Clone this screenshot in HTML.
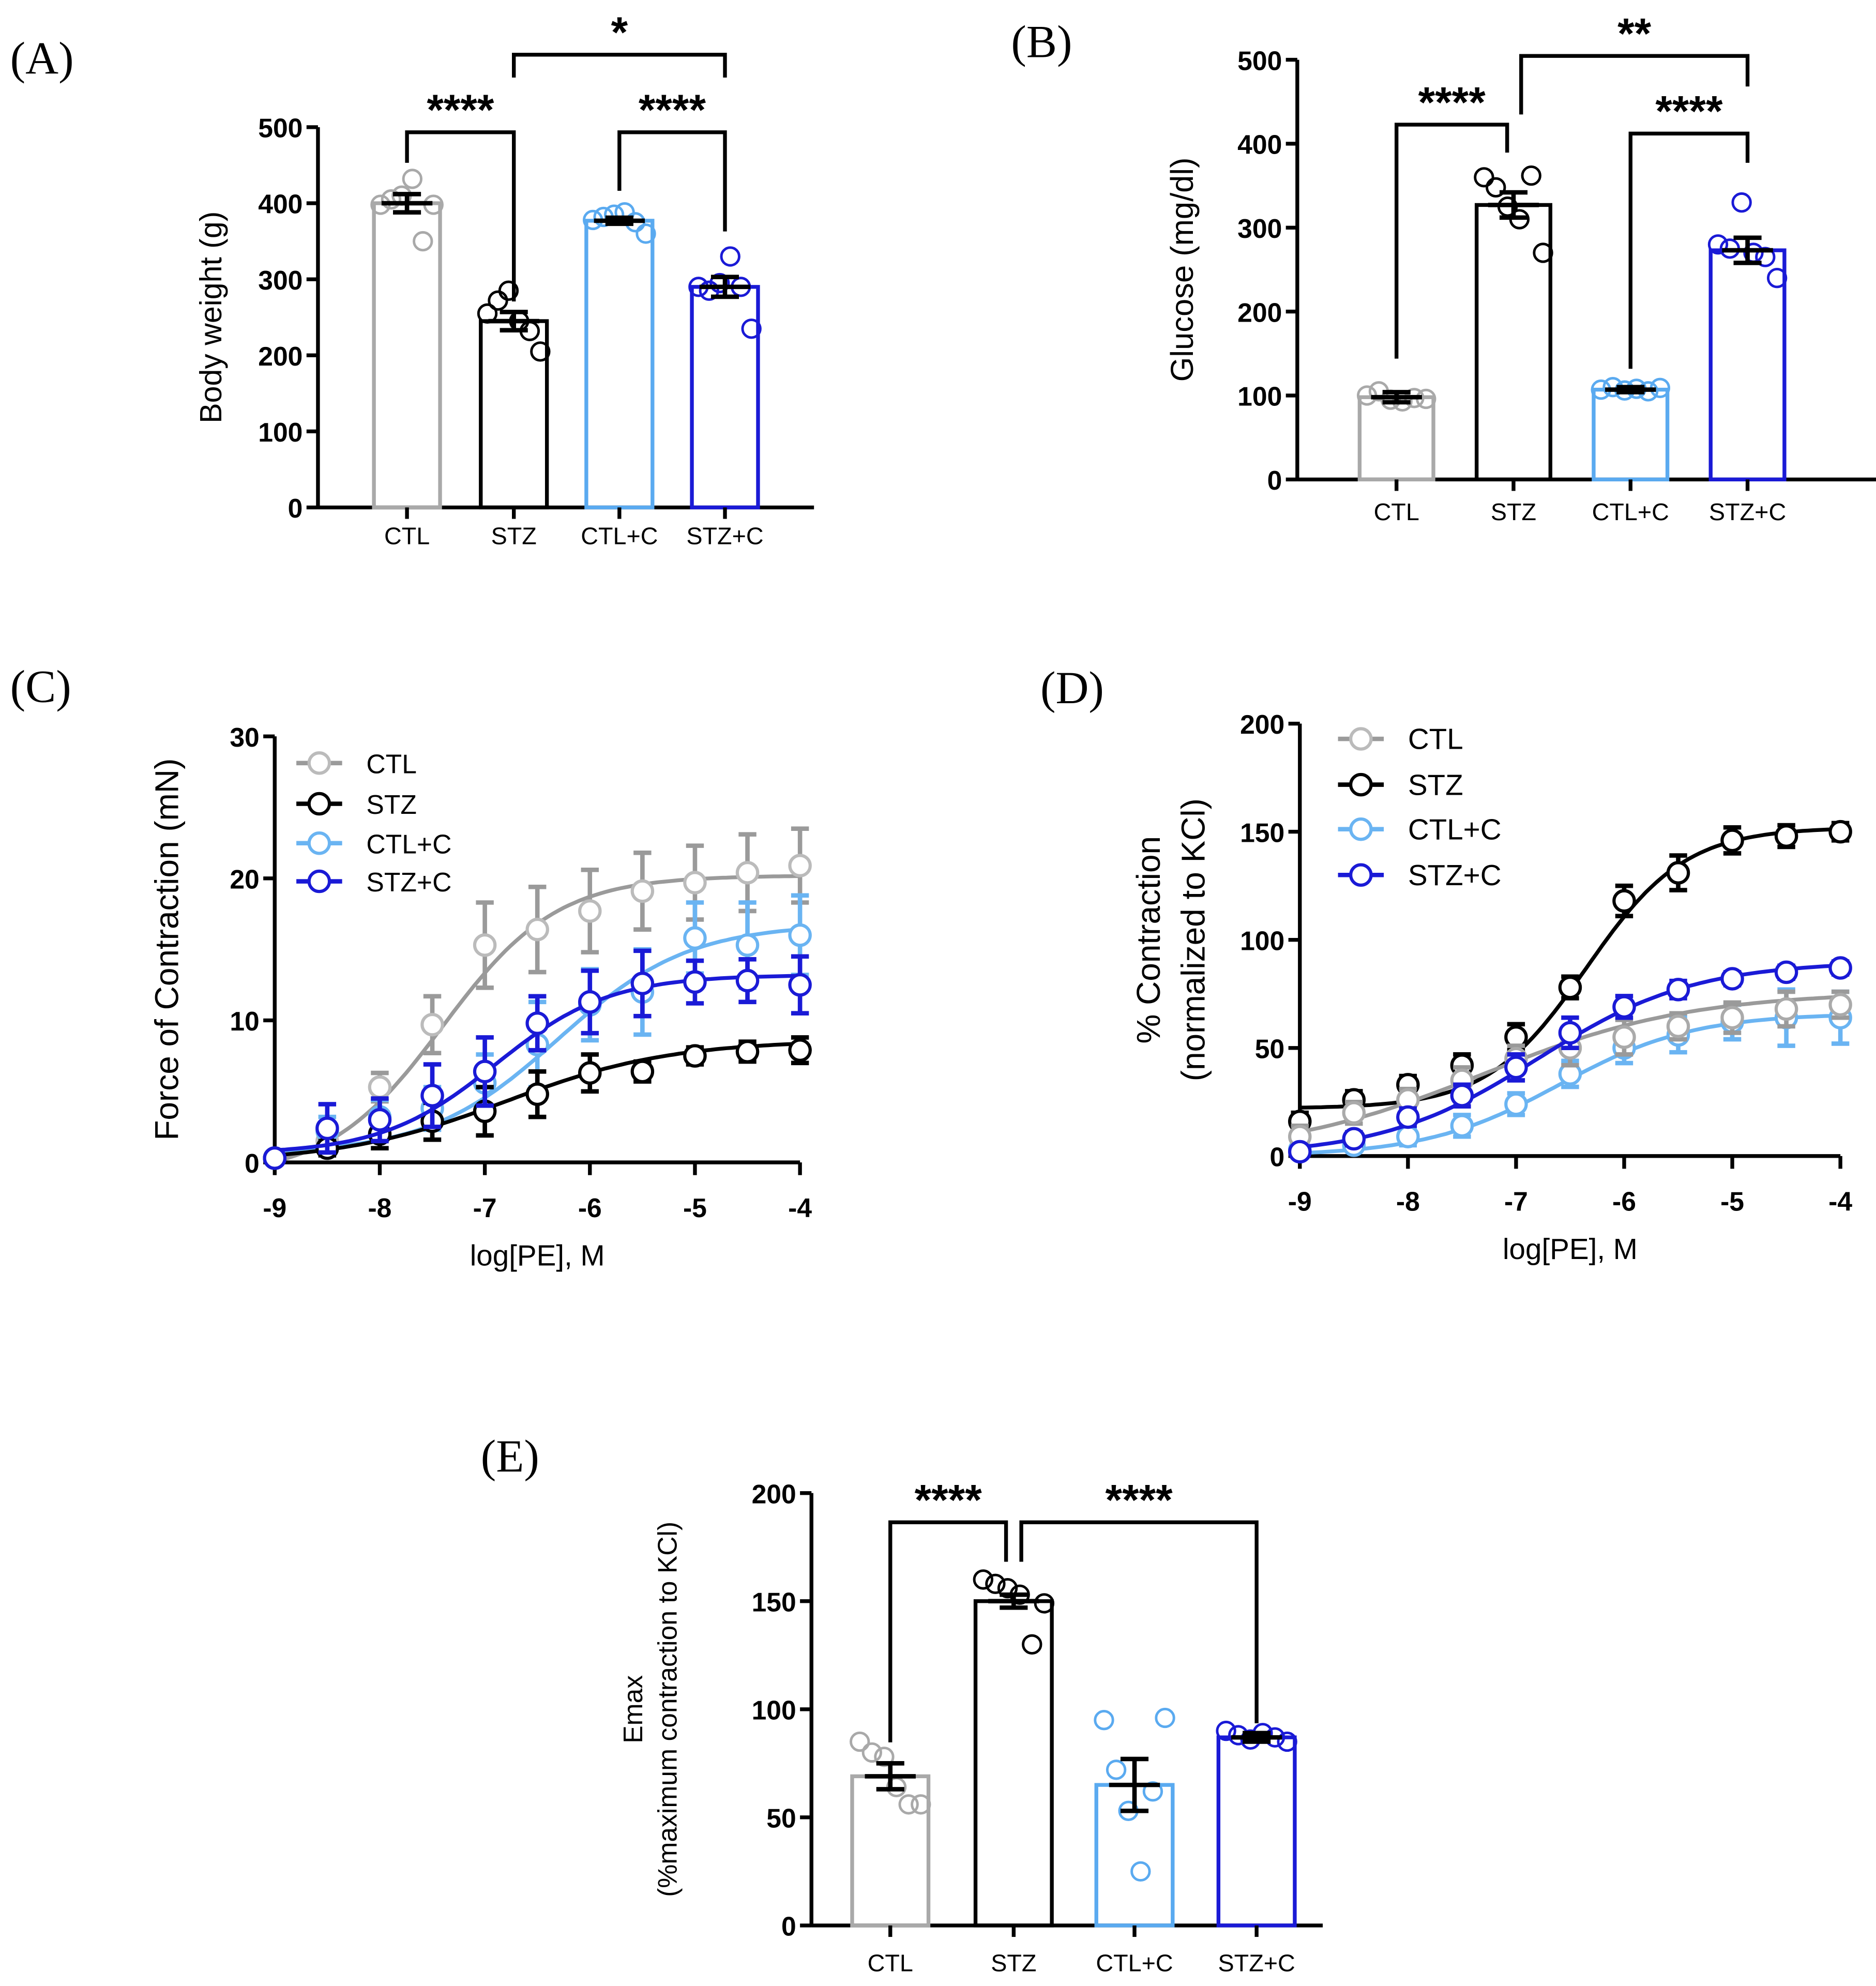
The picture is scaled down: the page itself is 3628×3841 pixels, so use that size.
<!DOCTYPE html>
<html><head><meta charset="utf-8">
<style>
html,body{margin:0;padding:0;background:#fff;}
svg{display:block;}
text{font-family:"Liberation Sans",Arial,sans-serif;}
.tick{font-size:21px;font-weight:bold;}
.cat{font-size:19px;}
.plab{font-family:"Liberation Serif",serif;font-size:36px;}
</style></head>
<body>
<svg id="fig" width="3628" height="3841" viewBox="0 0 1475 1561.6" xmlns="http://www.w3.org/2000/svg"></svg>
<script>
// ---------- data ----------
const groups = ["CTL","STZ","CTL+C","STZ+C"];
const colA = ["#a9a9a9","#000000","#5aaaf0","#1a1ad6"];
const colLine = ["#9a9a9a","#000000","#6ab4f2","#1a1ad6"];
// Panel A body weight
const bwMean = [400,245,377,290];
const bwSem = [12,12,4,13];
const bwPts = [[398,405,410,432,350,398],[255,272,285,245,232,205],[378,382,385,388,375,360],[290,285,295,330,290,235]];
// Panel B glucose
const gluMean = [98,327,107,273];
const gluSem = [6,15,3,15];
const gluPts = [[100,105,95,93,97,96],[360,348,325,310,362,270],[107,110,106,108,105,109],[280,275,330,270,265,240]];
// Panels C/D concentration axis
const logConc = [-9,-8.5,-8,-7.5,-7,-6.5,-6,-5.5,-5,-4.5,-4];
const cMean = [
 [0.3,1.5,5.3,9.7,15.3,16.4,17.7,19.1,19.7,20.4,20.9],
 [0.3,1.0,2.0,2.9,3.6,4.8,6.3,6.4,7.5,7.8,7.9],
 [0.3,2.2,3.2,3.8,5.6,8.3,11.1,12.0,15.8,15.3,16.0],
 [0.3,2.4,3.0,4.7,6.4,9.8,11.3,12.6,12.7,12.8,12.5]];
const cErr = [
 [0.3,1,1,2,3,3,2.9,2.7,2.6,2.7,2.6],
 [0.3,0.5,1,1.3,1.7,1.6,1.3,0.7,0.6,0.7,0.9],
 [0.3,1,1.2,1.5,2,3,2.5,3,2.5,3,2.8],
 [0.3,1.7,1.5,2.2,2.4,1.9,2.2,2.3,1.5,1.5,2.0]];
const cFitBottom = [-1,0,0.6,0.6];
const cFitTop = [20.2,8.6,16.8,13.2];
const cFitEC50 = [-7.4,-6.8,-6.3,-6.9];
const cFitHill = [0.8,0.55,0.7,0.8];
const dMean = [
 [9,20,26,35,45,50,55,60,64,68,70],
 [16,26,33,42,55,78,118,131,146,148,150],
 [3,5,9,14,24,38,50,56,62,64,64],
 [2,8,18,28,41,57,69,77,82,85,87]];
const dErr = [
 [5,5,5,6,6,8,8,6,7,8,6],
 [4,4,4,5,6,5,7,8,6,5,4],
 [2,2,4,5,5,6,7,8,8,13,12],
 [2,3,4,5,6,7,5,4,3,3,3]];
const dFitBottom = [0,22,0,0];
const dFitTop = [76,152,66,90];
const dFitEC50 = [-7.3,-6.35,-6.6,-6.8];
const dFitHill = [0.45,0.95,0.7,0.6];
// Panel E Emax
const eMean = [69,150,65,87];
const eSem = [6,3,12,2];
const ePts = [[85,80,78,64,56,56],[160,158,156,153,130,149],[95,72,53,25,62,96],[90,88,86,89,87,85]];

// ---------- helpers ----------
const svg = document.getElementById('fig');
const NS = "http://www.w3.org/2000/svg";
function mk(tag, attrs, parent){
  const e = document.createElementNS(NS, tag);
  for (const k in attrs) e.setAttribute(k, attrs[k]);
  (parent||svg).appendChild(e);
  return e;
}
function txt(x,y,s,attrs,parent){
  const t = mk('text', Object.assign({x:x,y:y},attrs||{}), parent);
  t.textContent = s; return t;
}
function lin(d0,d1,r0,r1){ return v => r0 + (v-d0)/(d1-d0)*(r1-r0); }

function panelLabel(x,y,s,name){
  const t = txt(x,y,s,{class:'plab'});
  
  
}

function yAxis(g, x, y0, y1, ticks, yScale, name){
  const a = mk('line',{x1:x,y1:y0+1,x2:x,y2:y1,stroke:'#000','stroke-width':3},g);
  
  
  ticks.forEach(v=>{
    const y = yScale(v);
    mk('line',{x1:x-9,y1:y,x2:x,y2:y,stroke:'#000','stroke-width':3},g);
    const t = txt(x-12,y+8,String(v),{class:'tick','text-anchor':'end'},g);
    
    
  });
}
function yTitle(g,x,y,s,size,name){
  const t = txt(x,y,s,{'font-size':size,'text-anchor':'middle',transform:`rotate(-90 ${x} ${y})`},g);
  
  
}

function barPanel(opt){
  const g = mk('g',{});
  
  
  const ys = lin(0,opt.max,opt.y0,opt.y1);
  yAxis(g,opt.ax,opt.y0,opt.y1,opt.ticks,ys,opt.name);
  const xa = mk('line',{x1:opt.ax,y1:opt.y0,x2:opt.axEnd,y2:opt.y0,stroke:'#000','stroke-width':3},g);
  
  
  groups.forEach((gn,i)=>{
    const cx = opt.cx[i], w = opt.bw, c = colA[i];
    const top = ys(opt.mean[i]);
    const b = mk('rect',{x:cx-w/2,y:top,width:w,height:opt.y0-top,fill:'none',stroke:c,'stroke-width':3},g);
    
    
    mk('line',{x1:cx,y1:opt.y0,x2:cx,y2:opt.y0+9,stroke:'#000','stroke-width':3},g);
    const l = txt(cx,opt.labY,gn,{class:'cat','text-anchor':'middle'},g);
    
    
    const n = opt.pts[i].length;
    opt.pts[i].forEach((v,j)=>{
      const px = cx + (j-(n-1)/2)*(w*0.16);
      const p = mk('circle',{cx:px,cy:ys(v),r:7,fill:'none',stroke:c,'stroke-width':2},g);
      
      
    });
    const hi = ys(opt.mean[i]+opt.sem[i]), lo = ys(opt.mean[i]-opt.sem[i]);
    const eg = mk('g',{stroke:'#000','stroke-width':3.5},g);
    
    
    mk('line',{x1:cx,y1:hi,x2:cx,y2:lo},eg);
    mk('line',{x1:cx-11,y1:hi,x2:cx+11,y2:hi},eg);
    mk('line',{x1:cx-11,y1:lo,x2:cx+11,y2:lo},eg);
    mk('line',{x1:cx-20,y1:top,x2:cx+20,y2:top},eg);
  });
  opt.brackets.forEach(b=>{
    const bg = mk('g',{},g);
    
    
    mk('path',{d:`M${b.x1},${b.l1} V${b.y} H${b.x2} V${b.l2}`,fill:'none',stroke:'#000','stroke-width':3},bg);
    txt((b.x1+b.x2)/2,b.y-6,b.s,{'font-size':34,'font-weight':'bold','text-anchor':'middle'},bg);
  });
  yTitle(g,opt.ytX,(opt.y0+opt.y1)/2,opt.ytitle,opt.ytSize||22,opt.name+'-y-axis-title');
  if (opt.ytitle2) yTitle(g,opt.ytX+27,(opt.y0+opt.y1)/2,opt.ytitle2,opt.ytSize||22,opt.name+'-y-axis-title-2');
}

function hill(x,b,t,e,h){ return b + (t-b)/(1+Math.pow(10,(e-x)*h)); }

function curvePanel(opt){
  const g = mk('g',{});
  
  
  const xs = lin(-9,-4,opt.x0,opt.x1);
  const ys = lin(0,opt.max,opt.y0,opt.y1);
  yAxis(g,opt.x0,opt.y0,opt.y1,opt.ticks,ys,opt.name);
  const xa = mk('line',{x1:opt.x0,y1:opt.y0,x2:opt.x1,y2:opt.y0,stroke:'#000','stroke-width':3},g);
  
  
  [-9,-8,-7,-6,-5,-4].forEach(v=>{
    mk('line',{x1:xs(v),y1:opt.y0,x2:xs(v),y2:opt.y0+10,stroke:'#000','stroke-width':3},g);
    const t = txt(xs(v),opt.y0+43,String(v),{class:'tick','text-anchor':'middle','font-size':23},g);
    
    
  });
  const xt = txt((opt.x0+opt.x1)/2,opt.y0+81,'log[PE], M',{'font-size':23,'text-anchor':'middle'},g);
  
  
  yTitle(g,opt.ytX,(opt.y0+opt.y1)/2,opt.ytitle,26,opt.name+'-y-axis-title');
  if (opt.ytitle2) yTitle(g,opt.ytX+35,(opt.y0+opt.y1)/2,opt.ytitle2,26,opt.name+'-y-axis-title-2');
  const order = opt.order;
  order.forEach(i=>{
    const sg = mk('g',{},g);
    
    
    let d='';
    for(let k=0;k<=100;k++){
      const x = -9 + k*0.05;
      const y = Math.max(hill(x,opt.fb[i],opt.ft[i],opt.fe[i],opt.fh[i]),opt.clip?0:-99);
      d += (k?'L':'M')+xs(x).toFixed(1)+','+ys(y).toFixed(1);
    }
    const cv = mk('path',{d:d,fill:'none',stroke:colLine[i],'stroke-width':3},sg);
    
    
    logConc.forEach((x,k)=>{
      const cx = xs(x), m = opt.mean[i][k], e = opt.err[i][k];
      const eg = mk('g',{stroke:colLine[i],'stroke-width':3.5},sg);
      
      
      mk('line',{x1:cx,y1:ys(m-e),x2:cx,y2:ys(m+e)},eg);
      mk('line',{x1:cx-7,y1:ys(m+e),x2:cx+7,y2:ys(m+e)},eg);
      mk('line',{x1:cx-7,y1:ys(m-e),x2:cx+7,y2:ys(m-e)},eg);
    });
    logConc.forEach((x,k)=>{
      const p = mk('circle',{cx:xs(x),cy:ys(opt.mean[i][k]),r:8,fill:'#fff',stroke:i==0&&opt.name=='panel-d'?'#aaa':(i==0?'#bbb':colLine[i]),'stroke-width':2.5},sg);
      
      
    });
  });
  groups.forEach((gn,i)=>{
    const lg = mk('g',{},g);
    
    
    const y = opt.legY[i];
    mk('line',{x1:opt.legX,y1:y,x2:opt.legX+36,y2:y,stroke:colLine[i],'stroke-width':3.5},lg);
    mk('circle',{cx:opt.legX+18,cy:y,r:8,fill:'#fff',stroke:i==0?'#bbb':colLine[i],'stroke-width':2.5},lg);
    txt(opt.legX+55,y+8,gn,{'font-size':opt.legSize},lg);
  });
}

// ---------- draw ----------
panelLabel(8,58,'(A)','panel-label-a');
panelLabel(795,45,'(B)','panel-label-b');
panelLabel(8,552,'(C)','panel-label-c');
panelLabel(818,553,'(D)','panel-label-d');
panelLabel(378,1157,'(E)','panel-label-e');

barPanel({name:'panel-a',ax:250,axEnd:640,y0:399,y1:100,max:500,ticks:[0,100,200,300,400,500],
  cx:[320,404,487,570],bw:52,mean:bwMean,sem:bwSem,pts:bwPts,labY:428,
  ytitle:'Body weight (g)',ytX:174,ytSize:24,
  brackets:[{x1:320,x2:404,y:104,l1:128,l2:237,s:'****'},{x1:487,x2:570,y:104,l1:150,l2:182,s:'****'},{x1:404,x2:570,y:43,l1:61,l2:61,s:'*'}]});

barPanel({name:'panel-b',ax:1020,axEnd:1475,y0:377,y1:47,max:500,ticks:[0,100,200,300,400,500],
  cx:[1098,1190,1282,1374],bw:58,mean:gluMean,sem:gluSem,pts:gluPts,labY:409,
  ytitle:'Glucose (mg/dl)',ytX:938,ytSize:25,
  brackets:[{x1:1098,x2:1185,y:98,l1:282,l2:120,s:'****'},{x1:1282,x2:1374,y:105,l1:290,l2:128,s:'****'},{x1:1196,x2:1374,y:44,l1:90,l2:68,s:'**'}]});

curvePanel({name:'panel-c',x0:216,x1:629,y0:914,y1:579,max:30,ticks:[0,10,20,30],
  mean:cMean,err:cErr,fb:cFitBottom,ft:cFitTop,fe:cFitEC50,fh:cFitHill,clip:false,order:[0,2,1,3],
  ytitle:'Force of Contraction (mN)',ytX:140,legX:233,legY:[600,632,663,693],legSize:21});

curvePanel({name:'panel-d',x0:1022,x1:1447,y0:909,y1:569,max:200,ticks:[0,50,100,150,200],
  mean:dMean,err:dErr,fb:dFitBottom,ft:dFitTop,fe:dFitEC50,fh:dFitHill,clip:true,order:[1,2,0,3],
  ytitle:'% Contraction',ytitle2:'(normalized to KCl)',ytX:912,legX:1052,legY:[581,617,652,688],legSize:23});

barPanel({name:'panel-e',ax:638,axEnd:1040,y0:1514,y1:1174,max:200,ticks:[0,50,100,150,200],
  cx:[700,797,892,988],bw:60,mean:eMean,sem:eSem,pts:ePts,labY:1550,
  ytitle:'Emax',ytitle2:'(%maximum contraction to KCl)',ytX:505,ytSize:21,
  brackets:[{x1:700,x2:791,y:1197,l1:1370,l2:1228,s:'****'},{x1:803,x2:988,y:1197,l1:1228,l2:1355,s:'****'}]});
</script>
</body></html>
